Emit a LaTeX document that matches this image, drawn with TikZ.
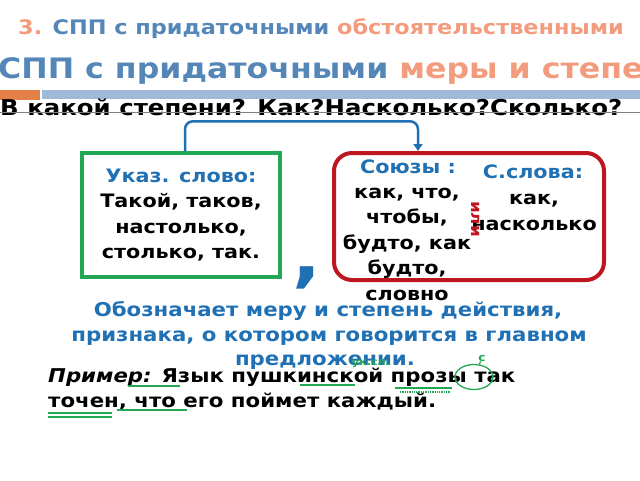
\documentclass[tikz,border=0pt]{standalone}
\usepackage{fontspec}
\setmainfont{DejaVu Sans}[FakeStretch=1.12]
\usetikzlibrary{arrows.meta,shapes.geometric}
\definecolor{titleblue}{RGB}{84,134,184}
\definecolor{titleorange}{RGB}{242,155,125}
\definecolor{barorange}{RGB}{226,128,72}
\definecolor{barblue}{RGB}{158,186,214}
\definecolor{textblue}{RGB}{32,112,180}
\definecolor{markgreen}{RGB}{34,168,84}
\definecolor{boxred}{RGB}{190,22,32}

\begin{document}
\begin{tikzpicture}[x=1pt,y=-1pt,
    every node/.style={inner sep=0pt,font=\bfseries},
    line/.style={anchor=base,align=center},
    boxtext/.style={font=\fontsize{18.5}{25.5}\selectfont\bfseries},
    deftext/.style={anchor=base,text=textblue,font=\fontsize{19}{19}\selectfont\bfseries},
    greenmark/.style={draw=markgreen,line width=1.3pt}]
    \useasboundingbox (0,0) rectangle (640,480);
    % headings
    \node[line] (head) at (321,34) {\fontsize{20}{20}\selectfont\textcolor{titleorange}{3.} \textcolor{titleblue}{СПП с придаточными} \textcolor{titleorange}{обстоятельственными}};
    \node[anchor=base west] (subhead) at (-2,78) {\fontsize{28.2}{28.2}\selectfont\textcolor{titleblue}{СПП с придаточными} \textcolor{titleorange}{меры и степе}};
    \fill[barorange] (0,90) rectangle (40,100);
    \fill[barblue] (42,90) rectangle (640,99);
    \node[anchor=base west] (question) at (0,115) {\fontsize{21.8}{21.8}\selectfont В какой степени? Как?Насколько?Сколько?};
    \draw[gray,line width=0.6pt] (0,112) -- (640,112);
    % boxes
    \node[draw=markgreen,line width=3.5pt,minimum width=198pt,minimum height=124pt,align=center,boxtext] (ukaz) at (181,215)
        {\textcolor{textblue}{Указ. слово:}\\Такой, таков,\\настолько,\\столько, так.};
    \node[draw=boxred,line width=4pt,rounded corners=18pt,minimum width=270pt,minimum height=127pt] (soyuzy) at (469,216.5) {};
    \draw[textblue,line width=2.5pt,rounded corners=8pt,-{Triangle[length=7pt,width=9pt]}]
        ([xshift=4pt]ukaz.north) -- ++(0,-30) -| ([xshift=-51pt]soyuzy.north);
    \node[text=textblue] (comma) at (307,278) {\fontsize{68}{68}\selectfont ,};
    \node[line,boxtext] (sz) at (408,173) {\textcolor{textblue}{Союзы :}};
    \node[line,boxtext] (szlist) at (407,300) {как, что,\\чтобы,\\будто, как\\будто,\\словно};
    \node[line,boxtext] (csl) at (533,178) {\textcolor{textblue}{С.слова:}};
    \node[line,boxtext] (csllist) at (534,230) {как,\\насколько};
    \node[text=boxred,rotate=-90,font=\fontsize{15}{15}\selectfont\bfseries] (ili) at (476,219) {или};
    % meaning
    \node[deftext] (def1) at (328,316) {Обозначает меру и степень действия,};
    \node[deftext] (def2) at (329,341) {признака, о котором говорится в главном};
    \node[deftext] (def3) at (325,365) {предложении.};
    % example
    \node[anchor=base west,font=\fontsize{19}{19}\selectfont\bfseries] (ex1) at (48,382) {\textit{Пример:} Язык пушкинской прозы так};
    \node[anchor=base west,font=\fontsize{19}{19}\selectfont\bfseries] (ex2) at (48,407) {точен, что его поймет каждый.};
    % green marks
    \node[text=markgreen,font=\fontsize{10}{10}\selectfont\bfseries] (uksl) at (371,364) {ук.сл.};
    \node[text=markgreen,font=\fontsize{11}{11}\selectfont\bfseries] (cmark) at (482,358) {с};
    \node[greenmark,ellipse,minimum width=38pt,minimum height=25pt] (circ) at (474,377) {};
    \draw[greenmark] (cmark) -- (circ);
    \draw[greenmark] (128,386) -- (180,386);
    \draw[greenmark] (300,385) -- (355,385);
    \draw[greenmark] (395,388) -- (452,388);
    \draw[greenmark,densely dotted] (400,392) -- (450,392);
    \draw[greenmark] (48,413) -- (112,413);
    \draw[greenmark] (48,417) -- (112,417);
    \draw[greenmark] (117,410) -- (187,410);
\end{tikzpicture}
\end{document}
